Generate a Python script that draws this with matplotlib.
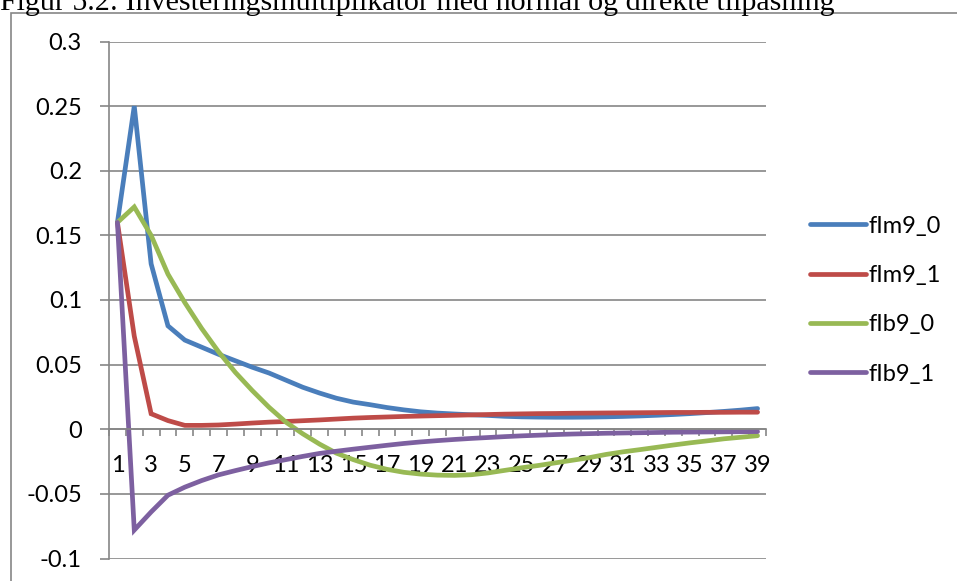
import numpy as np
import matplotlib
matplotlib.use("Agg")
import matplotlib.pyplot as plt
from matplotlib.patches import Rectangle

plt.rcParams['font.family'] = ['Lato', 'DejaVu Sans']
plt.rcParams['axes.unicode_minus'] = False

periods = list(range(1, 40))

fIm9_0 = [0.160, 0.250, 0.128, 0.080, 0.069, 0.0635, 0.058, 0.053, 0.048, 0.0435,
          0.038, 0.0325, 0.028, 0.024, 0.021, 0.019, 0.0168, 0.015, 0.0135, 0.0125,
          0.0118, 0.0112, 0.0107, 0.0100, 0.0096, 0.0094, 0.0093, 0.0093, 0.0094, 0.0096,
          0.0099, 0.0103, 0.0108, 0.0114, 0.0121, 0.0129, 0.0138, 0.0148, 0.0160]
fIm9_1 = [0.160, 0.072, 0.012, 0.0067, 0.003, 0.003, 0.0033, 0.004, 0.0048, 0.0055,
          0.006, 0.0066, 0.0072, 0.0079, 0.0086, 0.0091, 0.0095, 0.0099, 0.0102, 0.0105,
          0.0108, 0.0111, 0.0114, 0.0117, 0.0119, 0.0121, 0.0122, 0.0124, 0.0125, 0.0126,
          0.0127, 0.0128, 0.0129, 0.0130, 0.0130, 0.0131, 0.0131, 0.0132, 0.0132]
fIb9_0 = [0.160, 0.172, 0.150, 0.120, 0.098, 0.078, 0.060, 0.044, 0.030, 0.017,
          0.0055, -0.0035, -0.0115, -0.0185, -0.0235, -0.0278, -0.031, -0.0333, -0.0347, -0.0355,
          -0.0357, -0.0352, -0.0338, -0.0318, -0.0298, -0.028, -0.026, -0.024, -0.022, -0.0195,
          -0.0175, -0.0158, -0.014, -0.0122, -0.0105, -0.009, -0.0074, -0.0062, -0.005]
fIb9_1 = [0.160, -0.078, -0.064, -0.051, -0.0448, -0.0397, -0.0353, -0.032, -0.0289, -0.026,
          -0.0235, -0.021, -0.0187, -0.0170, -0.0154, -0.0139, -0.0124, -0.011, -0.0098, -0.0088,
          -0.0079, -0.0071, -0.0064, -0.0057, -0.0051, -0.0046, -0.0041, -0.0037, -0.0034, -0.0031,
          -0.0029, -0.0027, -0.0025, -0.0023, -0.0022, -0.0021, -0.002, -0.0019, -0.0018]

series = [("fIm9_0", fIm9_0, "#4a7ebb"),
          ("fIm9_1", fIm9_1, "#be4b48"),
          ("fIb9_0", fIb9_0, "#98b954"),
          ("fIb9_1", fIb9_1, "#7d60a0")]

yticks = [-0.1, -0.05, 0, 0.05, 0.1, 0.15, 0.2, 0.25, 0.3]
ytick_labels = ["-0.1", "-0.05", "0", "0.05", "0.1", "0.15", "0.2", "0.25", "0.3"]

grid = "#868686"
W, H = 957, 581

fig = plt.figure(figsize=(W / 100, H / 100), dpi=100)

# outer chart frame, runs off the right and bottom edges
fig.patches.append(Rectangle((11 / W, -0.1), 1.2, 1 - 13 / H + 0.1,
                             transform=fig.transFigure, fill=False,
                             edgecolor=grid, linewidth=1.2))

fig.text(0, 1 - 10 / H, "Figur 5.2: Investeringsmultiplikator med normal og direkte tilpasning",
         family="Liberation Serif", fontsize=21.6, va="baseline", ha="left")

ax = fig.add_axes([109 / W, 1 - 558.5 / H, (766 - 109) / W, (558.5 - 41.5) / H])

for name, vals, col in series:
    ax.plot(periods, vals, color=col, linewidth=3.4, label=name,
            solid_capstyle="round", solid_joinstyle="miter")

ax.set_xlim(0.5, 39.5)
ax.set_ylim(-0.1, 0.3)

for s in ("top", "right"):
    ax.spines[s].set_visible(False)
ax.spines["left"].set_color(grid)
ax.spines["left"].set_linewidth(1.2)
ax.spines["bottom"].set_position(("data", 0))
ax.spines["bottom"].set_color(grid)
ax.spines["bottom"].set_linewidth(1.2)

ax.set_yticks(yticks)
ax.set_yticklabels(ytick_labels)
ax.yaxis.grid(True, color=grid, linewidth=1.2)
ax.set_axisbelow(True)
ax.tick_params(axis="y", direction="out", length=6.5, width=1.2, color=grid,
               pad=13, labelsize=17)

ax.set_xticks(periods[::2])
ax.set_xticklabels([str(p) for p in periods[::2]])
ax.set_xticks(np.arange(0.5, 40, 1), minor=True)
ax.tick_params(axis="x", which="major", length=0, pad=18.5, labelsize=17)
ax.tick_params(axis="x", which="minor", direction="out", length=5, width=1.2, color=grid)

ax.legend(loc="center left", bbox_to_anchor=(1.035, 0.5), frameon=False,
          fontsize=17, handlelength=2.35, handletextpad=0.12, labelspacing=1.2)

fig.savefig("out.png", dpi=100)
